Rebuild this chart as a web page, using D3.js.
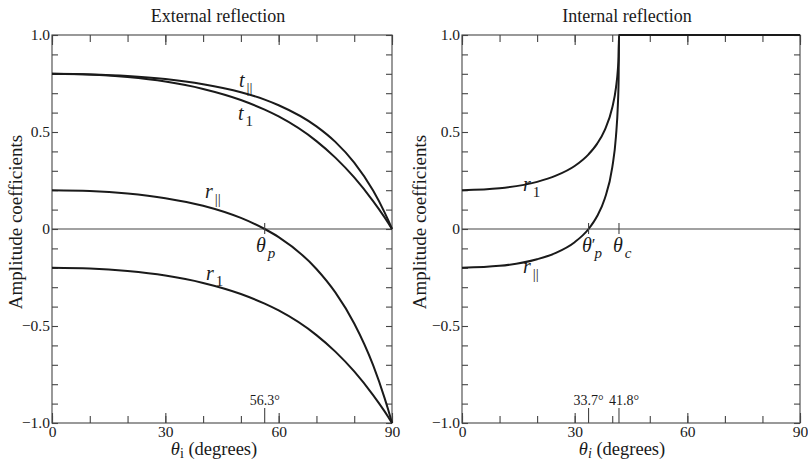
<!DOCTYPE html>
<html>
<head>
<meta charset="utf-8">
<script src="https://cdn.jsdelivr.net/npm/d3@7"></script>
<style>
  body { margin: 0; background: #fff; }
  svg, svg text { font-family: "Liberation Serif", "DejaVu Serif", "Noto Serif", serif; fill: #1a1a1a; }
</style>
</head>
<body>
<div id="chart"></div>
<script>
// values (n = 1.5)
var extAngles = [0, 10, 20, 30, 40, 50, 56.3, 60, 70, 75, 80, 85, 88, 89, 90];
var extRPar   = [0.200, 0.196, 0.183, 0.159, 0.120, 0.057, 0.000, -0.042, -0.206, -0.327, -0.487, -0.702, -0.869, -0.932, -1.0];
var extRPerp  = [-0.200, -0.204, -0.217, -0.240, -0.278, -0.335, -0.385, -0.420, -0.547, -0.632, -0.734, -0.856, -0.939, -0.969, -1.0];
var extTPar   = [0.800, 0.797, 0.789, 0.773, 0.746, 0.705, 0.667, 0.638, 0.529, 0.449, 0.342, 0.198, 0.087, 0.045, 0];
var extTPerp  = [0.800, 0.796, 0.783, 0.760, 0.722, 0.665, 0.615, 0.580, 0.453, 0.368, 0.266, 0.144, 0.061, 0.031, 0];

var intAngles = [0, 10, 20, 25, 30, 33.7, 36, 38, 40, 41, 41.5, 41.7, 41.8, 90];
var intRPerp  = [0.200, 0.210, 0.243, 0.275, 0.325, 0.385, 0.440, 0.510, 0.625, 0.729, 0.822, 0.889, 1.0, 1.0];
var intRPar   = [-0.200, -0.190, -0.156, -0.123, -0.068, 0.000, 0.067, 0.156, 0.316, 0.478, 0.639, 0.767, 1.0, 1.0];

var xTicksMinor = [0, 10, 20, 30, 40, 50, 60, 70, 80, 90];
var xTicksMajor = [0, 30, 60, 90];
var yTicksMinor = d3.range(-10, 11).map(function(d) { return d / 10; });
var yTicksMajor = [-1, -0.5, 0, 0.5, 1];
var yTickLabels = ["\u22121.0", "\u22120.5", "0", "0.5", "1.0"];

var FONT = "'Liberation Serif', 'DejaVu Serif', serif";

var svg = d3.select("#chart").append("svg")
    .attr("width", 808).attr("height", 460)
    .attr("font-family", FONT);

var y = d3.scaleLinear().domain([-1, 1]).range([423, 35]);
var xL = d3.scaleLinear().domain([0, 90]).range([52, 392]);
var xR = d3.scaleLinear().domain([0, 90]).range([462, 800]);

function drawPanel(x, title, ylabX) {
    var g = svg.append("g");
    var left = x.range()[0], right = x.range()[1];

    // frame
    g.append("rect")
        .attr("x", left).attr("y", y(1))
        .attr("width", right - left).attr("height", y(-1) - y(1))
        .attr("fill", "none").attr("stroke", "#555").attr("stroke-width", 1.2);

    // inward ticks
    var axes = [
        [d3.axisBottom(x).tickValues(xTicksMinor).tickSize(-7), y(-1), 0],
        [d3.axisTop(x).tickValues(xTicksMinor).tickSize(-7), y(1), 0],
        [d3.axisTop(x).tickValues(xTicksMajor).tickSize(-10), y(1), 0],
        [d3.axisLeft(y).tickValues(yTicksMinor).tickSize(-6), 0, left],
        [d3.axisRight(y).tickValues(yTicksMinor).tickSize(-6), 0, right]
    ];
    axes.forEach(function(a) {
        var ag = g.append("g")
            .attr("transform", "translate(" + a[2] + "," + a[1] + ")")
            .call(a[0].tickFormat(""));
        ag.select(".domain").remove();
        ag.selectAll("line").attr("stroke", "#444").attr("stroke-width", 1.1);
    });

    // bottom major ticks with labels
    var bx = g.append("g")
        .attr("transform", "translate(0," + y(-1) + ")")
        .call(d3.axisBottom(x).tickValues(xTicksMajor).tickSize(-10).tickPadding(3).tickFormat(d3.format("d")));
    bx.attr("font-family", FONT).attr("font-size", 15.5);
    bx.select(".domain").remove();
    bx.selectAll("line").attr("stroke", "#444").attr("stroke-width", 1.1);
    bx.selectAll("text").attr("fill", "#1a1a1a");

    // left labels
    var lx = g.append("g")
        .attr("transform", "translate(" + left + ",0)")
        .call(d3.axisLeft(y).tickValues(yTicksMajor).tickSize(0).tickPadding(2)
            .tickFormat(function(d, i) { return yTickLabels[i]; }));
    lx.attr("font-family", FONT).attr("font-size", 15.5);
    lx.select(".domain").remove();
    lx.selectAll("text").attr("fill", "#1a1a1a");

    // zero line
    g.append("line")
        .attr("x1", left).attr("x2", right)
        .attr("y1", y(0)).attr("y2", y(0))
        .attr("stroke", "#444").attr("stroke-width", 1.1);

    // title
    g.append("text")
        .attr("x", (left + right) / 2 - 4).attr("y", 22)
        .attr("text-anchor", "middle").attr("font-size", 18)
        .text(title);

    // y label
    g.append("text")
        .attr("transform", "translate(" + ylabX + "," + 222 + ") rotate(-90)")
        .attr("text-anchor", "middle").attr("font-size", 19)
        .text("Amplitude coefficients");

    return g;
}

function curve(g, x, xs, ys) {
    var line = d3.line()
        .x(function(d) { return x(d[0]); })
        .y(function(d) { return y(d[1]); })
        .curve(d3.curveMonotoneX);
    g.append("path")
        .datum(d3.zip(xs, ys))
        .attr("d", line)
        .attr("fill", "none")
        .attr("stroke", "#1a1a1a")
        .attr("stroke-width", 2);
}

function curveLabel(g, px, py, main, sub, prime) {
    var t = g.append("text").attr("x", px).attr("y", py).attr("font-size", 20);
    t.append("tspan").attr("font-style", "italic").text(main);
    if (prime) t.append("tspan").attr("font-size", 17).attr("dy", -2).text("\u2032");
    var s = t.append("tspan").attr("font-size", 15).attr("dy", prime ? 8 : 6).attr("dx", prime ? -1 : 2).text(sub.text);
    if (sub.italic) s.attr("font-style", "italic");
}

function markTick(g, x, angle, lbl, dx) {
    g.append("line")
        .attr("x1", x(angle)).attr("x2", x(angle))
        .attr("y1", y(-1) - 15).attr("y2", y(-1))
        .attr("stroke", "#444").attr("stroke-width", 1.1);
    g.append("line")
        .attr("x1", x(angle)).attr("x2", x(angle))
        .attr("y1", y(0) - 6).attr("y2", y(0) + 5)
        .attr("stroke", "#444").attr("stroke-width", 1.1);
    g.append("text")
        .attr("x", x(angle) + (dx || 0)).attr("y", y(-1) - 18)
        .attr("text-anchor", "middle").attr("font-size", 14)
        .text(lbl);
}

// External reflection
var gL = drawPanel(xL, "External reflection", 22);
curve(gL, xL, extAngles, extTPar);
curve(gL, xL, extAngles, extTPerp);
curve(gL, xL, extAngles, extRPar);
curve(gL, xL, extAngles, extRPerp);
markTick(gL, xL, 56.3, "56.3\u00b0", 0);
curveLabel(gL, 239, 87, "t", { text: "||" });
curveLabel(gL, 238, 120, "t", { text: "1" });
curveLabel(gL, 205, 198, "r", { text: "||" });
curveLabel(gL, 206, 280, "r", { text: "1" });
curveLabel(gL, 256, 252, "\u03b8", { text: "p", italic: true });

// x label, left ("i" upright)
var xlL = gL.append("text").attr("x", 214).attr("y", 455).attr("text-anchor", "middle").attr("font-size", 18.5);
xlL.append("tspan").attr("font-style", "italic").text("\u03b8");
xlL.append("tspan").attr("font-size", 14).attr("dy", 3).text("i");
xlL.append("tspan").attr("dy", -3).text(" (degrees)");

// Internal reflection
var gR = drawPanel(xR, "Internal reflection", 426);
curve(gR, xR, intAngles, intRPerp);
curve(gR, xR, intAngles, intRPar);
markTick(gR, xR, 33.7, "33.7\u00b0", 0);
markTick(gR, xR, 41.8, "41.8\u00b0", 5);
curveLabel(gR, 523, 191, "r", { text: "1" });
curveLabel(gR, 523, 273, "r", { text: "||" });
curveLabel(gR, 582, 252, "\u03b8", { text: "p", italic: true }, true);
curveLabel(gR, 613, 252, "\u03b8", { text: "c", italic: true });

var xlR = gR.append("text").attr("x", 622).attr("y", 455).attr("text-anchor", "middle").attr("font-size", 18.5);
xlR.append("tspan").attr("font-style", "italic").text("\u03b8");
xlR.append("tspan").attr("font-size", 14).attr("font-style", "italic").attr("dy", 3).text("i");
xlR.append("tspan").attr("dy", -3).text(" (degrees)");
</script>
</body>
</html>
